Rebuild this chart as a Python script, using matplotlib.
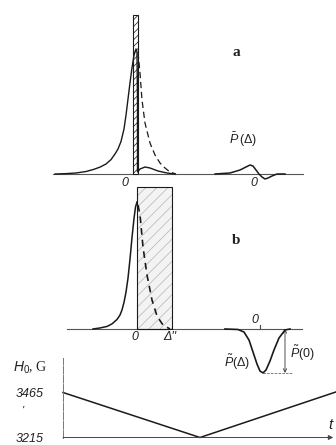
import matplotlib.pyplot as plt
import matplotlib as mpl

mpl.rcParams['hatch.linewidth'] = 0.5
mpl.rcParams['mathtext.fontset'] = 'custom'
mpl.rcParams['mathtext.it'] = 'Liberation Sans:italic'
mpl.rcParams['mathtext.rm'] = 'Liberation Sans'

# ---- panel a : line shape after the pulse (Delta in HWHM units, P normalised)
a_solid_x = [-8.1, -7.0, -6.0, -5.0, -4.3, -3.6, -3.0, -2.5, -2.1, -1.8, -1.5, -1.2, -1.0,
             -0.8, -0.6, -0.4, -0.2, 0.0, 0.1, 0.15, 0.15, 0.4, 0.9, 1.4, 2.2, 3.1, 3.9]
a_solid_y = [0.0, 0.003, 0.008, 0.02, 0.035, 0.055, 0.08, 0.115, 0.16, 0.2, 0.26, 0.36, 0.47,
             0.6, 0.73, 0.85, 0.95, 1.0, 0.976, 0.592, 0.016, 0.04, 0.056, 0.048, 0.024, 0.008, 0.0]
a_dash_x = [0.2, 0.4, 0.6, 0.9, 1.4, 1.9, 2.4, 2.9, 3.4, 4.0]
a_dash_y = [0.976, 0.808, 0.592, 0.408, 0.248, 0.152, 0.088, 0.048, 0.016, 0.0]
a_far_x = [7.9, 9.4, 10.4, 11.0, 11.4, 11.7, 12.0, 12.3, 12.6, 12.9, 13.2, 13.6, 14.1, 14.9]
a_far_y = [0.0, 0.008, 0.032, 0.056, 0.072, 0.064, 0.032, 0.0, -0.024, -0.04, -0.032, -0.016, 0.0, 0.0]
a_pulse_x, a_pulse_w, a_pulse_h = -0.03, 0.45, 1.272

# ---- panel b
b_solid_x = [-4.4, -3.7, -3.0, -2.5, -2.0, -1.7, -1.5, -1.3, -1.1, -0.9, -0.7, -0.5, -0.3, -0.15, 0.0]
b_solid_y = [0.0, 0.008, 0.02, 0.04, 0.075, 0.11, 0.15, 0.21, 0.29, 0.40, 0.55, 0.72, 0.87, 0.96, 1.0]
b_dash_x = [0.1, 0.3, 0.6, 1.0, 1.5, 2.0, 2.6, 3.3]
b_dash_y = [0.976, 0.898, 0.646, 0.425, 0.228, 0.102, 0.031, 0.0]
b_dip_x = [8.8, 10.1, 10.7, 11.2, 11.6, 12.0, 12.3, 12.6, 12.9, 13.3, 13.7, 14.2, 14.8, 15.3]
b_dip_y = [0.0, -0.004, -0.024, -0.087, -0.181, -0.276, -0.331, -0.346, -0.323, -0.252,
           -0.165, -0.071, -0.008, 0.0]
b_delta2 = 3.5      # Delta''
b_rect_h = 1.118

# ---- field sweep
t_vals = [0, 1, 2]
h0_vals = [3465, 3215, 3470]
h0_ticks = [3465, 3215]

W, H = 336, 445
fig = plt.figure(figsize=(W / 100, H / 100), dpi=100)


def px_axes(x0, x1, y0, y1):
    ax = fig.add_axes([x0 / W, 1 - y1 / H, (x1 - x0) / W, (y1 - y0) / H])
    ax.patch.set_alpha(0)
    return ax


def base_axis(ax):
    for s in ['top', 'right', 'left']:
        ax.spines[s].set_visible(False)
    ax.spines['bottom'].set_position(('data', 0))
    ax.spines['bottom'].set_color('#555555')
    ax.spines['bottom'].set_linewidth(0.8)
    ax.set_xticks([])
    ax.set_yticks([])


ink = '#1a1a1a'
ifont = dict(family='Liberation Sans', style='italic', color='#222222')

# panel a
ax = px_axes(53, 303, 10, 195)
ax.set_xlim(-8.3, 16.7)
ax.set_ylim(-0.168, 1.312)
base_axis(ax)
ax.bar(a_pulse_x, a_pulse_h, width=a_pulse_w, color='white', edgecolor=ink,
       hatch='/////', linewidth=0.8, zorder=3)
ax.plot(a_solid_x, a_solid_y, color=ink, lw=1.0, zorder=4)
ax.plot(a_dash_x, a_dash_y, color=ink, lw=0.9, ls=(0, (5, 3)), zorder=4)
ax.plot(a_far_x, a_far_y, color=ink, lw=1.1, zorder=4)
ax.text(-1.1, -0.075, '0', ha='center', va='center', fontsize=9, **ifont)
ax.text(11.8, -0.075, '0', ha='center', va='center', fontsize=9, **ifont)
ax.text(10.0, 0.968, 'a', ha='center', va='center', fontsize=11,
        family='Liberation Serif', weight='bold', color='#222222')
ax.text(10.7, 0.272, r'$\bar{P}\,(\Delta)$', ha='center', va='center', fontsize=9, color='#222222')

# panel b
ax = px_axes(67, 302, 180, 385)
ax.set_xlim(-7.0, 16.5)
ax.set_ylim(-0.441, 1.173)
base_axis(ax)
ax.bar(0, b_rect_h, width=b_delta2, align='edge', color='#f3f3f3', edgecolor='#b5b5b5',
       hatch='///', linewidth=0, zorder=2)
ax.bar(0, b_rect_h, width=b_delta2, align='edge', fill=False, edgecolor=ink,
       linewidth=0.8, zorder=3)
ax.plot(b_solid_x, b_solid_y, color=ink, lw=1.1, zorder=4)
ax.plot(b_dash_x, b_dash_y, color=ink, lw=1.2, ls=(0, (4, 3)), zorder=4)
ax.plot(b_dip_x, b_dip_y, color=ink, lw=1.2, zorder=4)
ax.plot([b_dip_x[6], b_dip_x[6]], [0, 0.03], color='#444444', lw=0.8)
ax.plot([b_dip_x[7], 15.6], [min(b_dip_y)] * 2, color='#666666', lw=0.6, ls=(0, (3, 1.5)))
ax.annotate('', xy=(14.8, 0.0), xytext=(14.8, min(b_dip_y)),
            arrowprops=dict(arrowstyle='<->', color='#333333', lw=0.6,
                            mutation_scale=6, shrinkA=0, shrinkB=0))
ax.text(-0.2, -0.063, '0', ha='center', va='center', fontsize=9, **ifont)
ax.text(3.3, -0.063, "\u0394''", ha='center', va='center', fontsize=9, **ifont)
ax.text(11.8, 0.07, '0', ha='center', va='center', fontsize=9, **ifont)
ax.text(9.9, 0.70, 'b', ha='center', va='center', fontsize=11,
        family='Liberation Serif', weight='bold', color='#222222')
ax.text(10.0, -0.26, r'$\tilde{P}(\Delta)$', ha='center', va='center', fontsize=9, color='#222222')
ax.text(16.5, -0.19, r'$\tilde{P}(0)$', ha='center', va='center', fontsize=9,
        color='#222222', clip_on=False)

# field sweep H0(t)
ax = px_axes(63, 336, 358, 437.5)
ax.set_xlim(0, 273 / 137)
ax.set_ylim(3215, 3215 + 79.5 * 250 / 45)
for s in ['top', 'right', 'bottom']:
    ax.spines[s].set_visible(False)
ax.spines['left'].set_color('#777777')
ax.spines['left'].set_linewidth(0.7)
ax.spines['left'].set_linestyle((0, (8, 1.5)))
ax.annotate('', xy=(0.99, 0), xytext=(0, 0), xycoords='axes fraction',
            arrowprops=dict(arrowstyle='-|>', color='#444444', lw=0.7,
                            mutation_scale=7, shrinkA=0, shrinkB=0))
ax.plot(t_vals, h0_vals, color=ink, lw=1.1, clip_on=False)
ax.set_xticks([])
ax.set_yticks(h0_ticks)
ax.set_yticklabels([str(v) for v in h0_ticks], fontsize=9, **ifont)
ax.tick_params(axis='y', length=0, pad=14)

fig.text(30 / W, 1 - 368 / H, r'$H_0$, G', ha='center', va='center', fontsize=10,
         family='Liberation Serif', color='#222222')
fig.text(23 / W, 1 - 411 / H, "'", ha='center', va='center', fontsize=8, **ifont)
fig.text(330 / W, 1 - 425 / H, 't', ha='center', va='center', fontsize=11, **ifont)

fig.savefig('out.png', dpi=100)
